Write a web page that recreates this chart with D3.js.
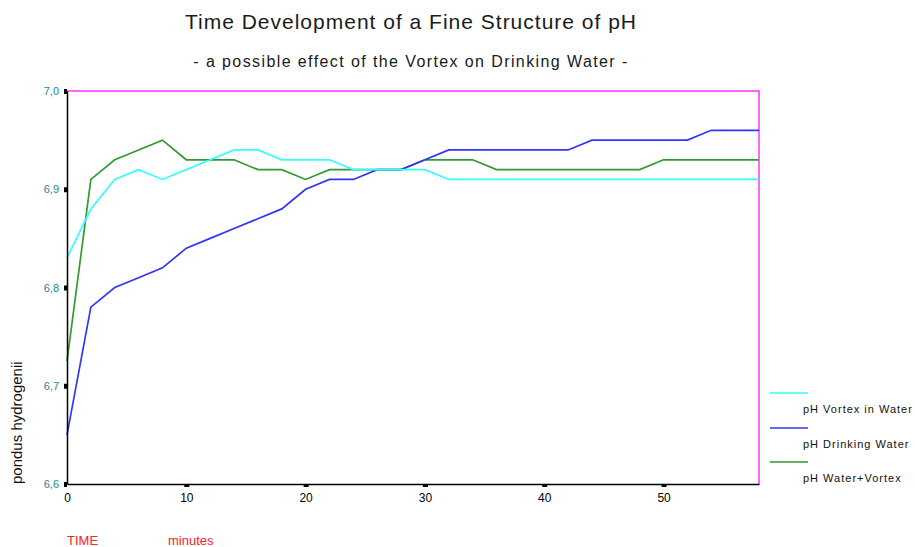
<!DOCTYPE html>
<html>
<head>
<meta charset="utf-8">
<script src="https://cdn.jsdelivr.net/npm/d3@7"></script>
<style>
  html, body { margin: 0; padding: 0; background: #fff; }
  svg { display: block; font-family: "Liberation Sans", Arial, sans-serif; }
</style>
</head>
<body>
<svg id="chart" width="915" height="547"></svg>
<script>
const minutes = [0,2,4,6,8,10,12,14,16,18,20,22,24,26,28,30,32,34,36,38,40,42,44,46,48,50,52,54,56,58];
const vortexInWater = [6.83,6.88,6.91,6.92,6.91,6.92,6.93,6.94,6.94,6.93,6.93,6.93,6.92,6.92,6.92,6.92,6.91,6.91,6.91,6.91,6.91,6.91,6.91,6.91,6.91,6.91,6.91,6.91,6.91,6.91];
const drinkingWater = [6.65,6.78,6.80,6.81,6.82,6.84,6.85,6.86,6.87,6.88,6.90,6.91,6.91,6.92,6.92,6.93,6.94,6.94,6.94,6.94,6.94,6.94,6.95,6.95,6.95,6.95,6.95,6.96,6.96,6.96];
const waterVortex = [6.725,6.91,6.93,6.94,6.95,6.93,6.93,6.93,6.92,6.92,6.91,6.92,6.92,6.92,6.92,6.93,6.93,6.93,6.92,6.92,6.92,6.92,6.92,6.92,6.92,6.93,6.93,6.93,6.93,6.93];
const yTicks = [6.6, 6.7, 6.8, 6.9, 7.0];
const xTicks = [0, 10, 20, 30, 40, 50];
const seriesNames = ["pH Vortex in Water", "pH Drinking Water", "pH Water+Vortex"];
const seriesColors = ["#33ffff", "#3333ff", "#339933"];

const svg = d3.select("#chart");
const pLeft = 67, pRight = 759, pTop = 91, pBottom = 484;
const x = d3.scaleLinear().domain([0, 58]).range([pLeft, pRight]);
const y = d3.scaleLinear().domain([6.6, 7.0]).range([pBottom, pTop]);

// Titles
svg.append("text").attr("x", 411).attr("y", 29).attr("text-anchor", "middle")
  .attr("font-size", 21).attr("letter-spacing", 1).attr("fill", "#1a1a1a")
  .text("Time Development of a Fine Structure of pH");
svg.append("text").attr("x", 411).attr("y", 67).attr("text-anchor", "middle")
  .attr("font-size", 16).attr("letter-spacing", 1.4).attr("fill", "#1a1a1a")
  .text("- a possible effect of the Vortex on Drinking Water -");

// Frame: magenta top and right
svg.append("path").attr("d", `M${pLeft},${pTop}H${pRight}V${pBottom}`)
  .attr("fill", "none").attr("stroke", "#ff33ff").attr("stroke-width", 1.5);

// Lines
const series = [
  { name: seriesNames[2], values: waterVortex, color: seriesColors[2] },
  { name: seriesNames[1], values: drinkingWater, color: seriesColors[1] },
  { name: seriesNames[0], values: vortexInWater, color: seriesColors[0] }
];
const line = d3.line().x((d, i) => x(minutes[i])).y(d => y(d));
series.forEach(s => {
  svg.append("path").datum(s.values).attr("d", line)
    .attr("fill", "none").attr("stroke", s.color).attr("stroke-width", 1.7);
});

// Y axis
const yAxis = svg.append("g").attr("transform", `translate(${pLeft},0)`)
  .call(d3.axisLeft(y).tickValues(yTicks).tickSize(0).tickPadding(8)
    .tickFormat(d => d3.format(".1f")(d).replace(".", ",")));
yAxis.select(".domain").attr("stroke", "#000").attr("stroke-width", 1.5);
yAxis.selectAll(".tick text").attr("fill", "#1a8a8a").attr("font-size", 11)
  .attr("font-family", "\"Liberation Sans\", Arial, sans-serif");
yAxis.selectAll(".tick").append("rect").attr("x", -3).attr("y", -2.5)
  .attr("width", 3).attr("height", 5).attr("fill", "#000");

// X axis
const xAxis = svg.append("g").attr("transform", `translate(0,${pBottom})`)
  .call(d3.axisBottom(x).tickValues(xTicks).tickSize(0).tickPadding(9));
xAxis.select(".domain").attr("stroke", "#000").attr("stroke-width", 1.5);
xAxis.selectAll(".tick text").attr("fill", "#000").attr("font-size", 12)
  .attr("font-family", "\"Liberation Sans\", Arial, sans-serif");
xAxis.selectAll(".tick").filter(d => d > 0).append("rect").attr("x", -2.5).attr("y", 0)
  .attr("width", 5).attr("height", 3).attr("fill", "#000");

// Axis titles
svg.append("text").attr("transform", "translate(22,484) rotate(-90)")
  .attr("font-size", 15).attr("fill", "#111").text("pondus hydrogenii");
svg.append("text").attr("x", 67).attr("y", 545).attr("font-size", 13).attr("fill", "#ff2020").text("TIME");
svg.append("text").attr("x", 168).attr("y", 545).attr("font-size", 13).attr("fill", "#ff2020").text("minutes");

// Legend
const legendY = [393, 428, 462];
seriesNames.forEach((n, i) => {
  svg.append("line").attr("x1", 770).attr("x2", 808).attr("y1", legendY[i]).attr("y2", legendY[i])
    .attr("stroke", seriesColors[i]).attr("stroke-width", 1.6);
  svg.append("text").attr("x", 803).attr("y", legendY[i] + 20).attr("font-size", 11)
    .attr("letter-spacing", 1).attr("fill", "#111").text(n);
});
</script>
</body>
</html>
